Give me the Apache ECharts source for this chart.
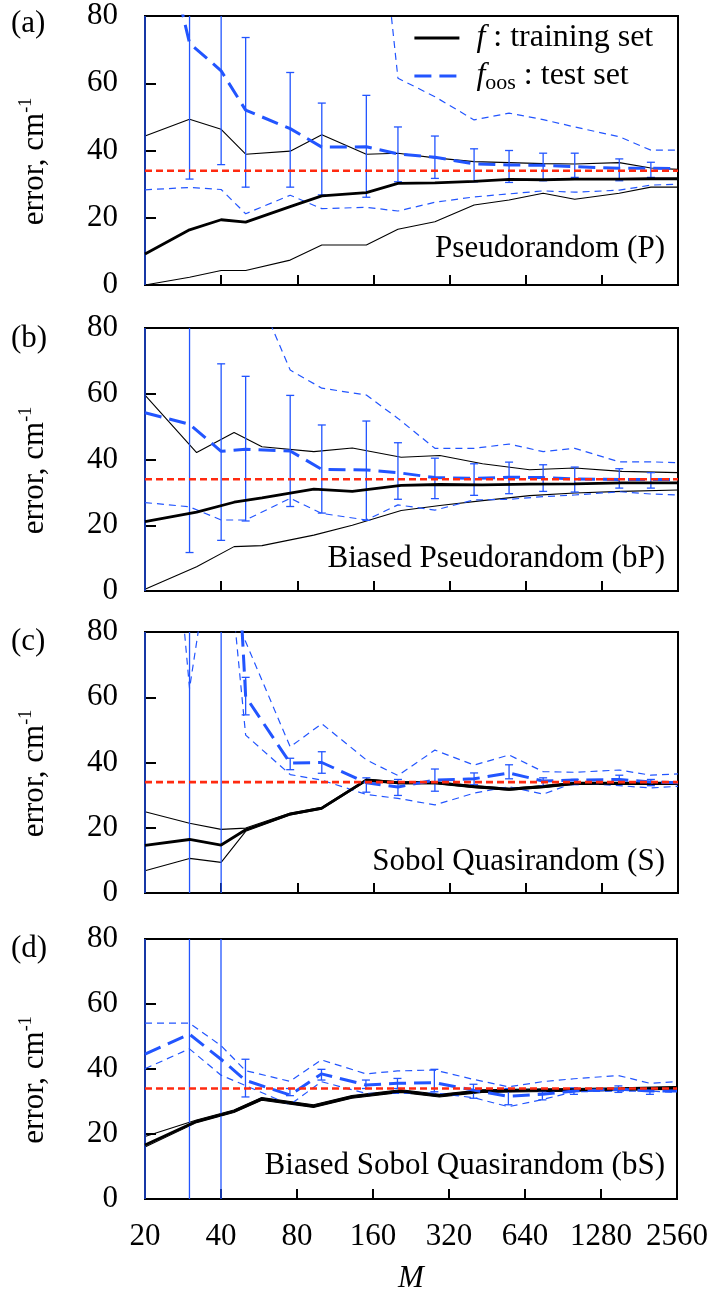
<!DOCTYPE html>
<html>
<head>
<meta charset="utf-8">
<script src="https://cdn.jsdelivr.net/npm/echarts/dist/echarts.min.js"></script>
<style>
html,body{margin:0;padding:0;background:#fff;}
#chart{width:711px;height:1295px;}
</style>
</head>
<body>
<div id="chart"></div>
<script>
// ---------------- data ----------------
const M_TEST = [20,30,40,50,75,100,150,200,280,400,550,750,1000,1500,2000,2560];
const M_TRAIN_BIASED = [20,32,45,58,93,132,206,293,432,663,1000,1535,2560];
const X_TICK_LABELS = ['20','40','80','160','320','640','1280','2560'];
const Y_TICKS = [0,20,40,60,80];
const REF_ERROR = 34;
const PANEL_TAGS = ['(a)','(b)','(c)','(d)'];
const PANEL_NAMES = ['Pseudorandom (P)','Biased Pseudorandom (bP)','Sobol Quasirandom (S)','Biased Sobol Quasirandom (bS)'];

// (a) Pseudorandom
const A_trainMean = [9.2,16.4,19.4,18.7,23.3,26.5,27.5,30.2,30.4,30.8,31.4,31.3,31.5,31.5,31.6,31.6];
const A_trainMax  = [44.3,49.3,46.3,38.9,39.8,44.7,38.9,39.2,37.8,36.7,36.4,36.1,36.0,36.4,34.8,34.4];
const A_trainMin  = [0,2.3,4.3,4.3,7.4,11.9,11.9,16.6,18.8,23.8,25.3,27.3,25.5,27.3,29.1,29.1];
const A_testMean  = [128,71.9,63.7,52.0,46.5,41.0,41.1,39.0,38.0,36.0,35.7,35.6,35.2,34.7,34.7,34.6];
const A_testMax   = [220,210,200,190,180,170,150,61.5,56.0,49.1,51.1,49.2,47.0,44.1,40.1,40.1];
const A_testMin   = [28.3,29.0,28.4,21.2,26.7,22.7,23.1,22.0,24.6,26.2,27.1,28.0,27.6,28.2,29.7,30.0];
const A_errLow    = [-100,31.5,35.8,29.1,29.1,26.8,26.1,30.7,31.7,30.7,30.5,31.0,32.0,31.0,32.0,null];
const A_errHigh   = [300,110.5,91.0,73.6,63.2,54.1,56.4,47.0,44.3,40.5,40.0,39.2,39.2,37.5,36.5,null];

// (b) Biased Pseudorandom (training curves on M_TRAIN_BIASED)
const B_trainMean = [21.1,24.0,27.0,28.3,31.0,30.3,32.1,32.4,32.3,32.5,32.6,32.9,32.9];
const B_trainMax  = [59.6,42.1,48.2,43.9,42.4,43.5,40.7,41.2,38.7,36.9,37.4,36.4,36.0];
const B_trainMin  = [0.5,7.4,13.5,13.8,17.0,20.0,24.5,26.0,27.5,29.0,29.8,30.3,30.7];
const B_testMean  = [54.2,50.7,42.5,43.1,42.6,37.0,36.8,36.0,34.5,34.3,34.6,34.5,34.1,33.9,33.9,33.9];
const B_testMax   = [150,140,120,99,67.2,61.7,59.6,52.5,43.4,43.4,44.7,42.4,43.4,39.3,39.3,39.0];
const B_testMin   = [26.9,25.6,21.6,21.6,28.2,23.6,21.6,26.2,24.6,27.7,27.9,28.7,29.2,30.2,29.5,29.2];
const B_errLow    = [-100,11.7,15.4,21.3,25.7,23.7,21.5,27.9,28.1,29.1,29.6,30.3,30.1,31.3,31.3,null];
const B_errHigh   = [300,90.0,69.1,65.3,59.5,50.5,51.7,45.1,40.4,38.7,39.2,38.4,37.7,37.2,36.0,null];

// (c) Sobol Quasirandom
const C_trainMean = [14.6,16.4,14.7,19.4,24.2,26.0,34.6,33.8,33.8,32.6,31.8,32.6,33.6,33.6,33.6,33.6];
const C_trainMax  = [24.9,21.4,19.5,19.9,24.5,26.3,34.9,34.1,34.1,32.9,32.1,32.9,33.9,33.9,33.9,33.9];
const C_trainMin  = [6.8,10.6,9.4,18.9,23.9,25.7,34.3,33.5,33.5,32.3,31.5,32.3,33.3,33.3,33.3,33.3];
const C_testMean  = [300,250,200,60.2,39.8,40.0,33.8,32.5,34.6,35.0,36.8,34.3,34.6,34.8,34.0,33.8];
const C_testMax   = [260,250,95,77,44.8,51.9,40.8,36.0,43.8,39.2,42.3,37.2,37.0,37.7,36.1,36.5];
const C_testMin   = [215,62.7,126,48.4,36.3,34.6,30.2,29.0,27.0,30.6,32.6,30.3,33.8,32.9,32.2,32.7];
const C_errLow    = [-100,-100,-100,54.6,37.8,36.7,30.9,29.9,31.2,33.2,35.0,32.9,33.2,33.8,32.9,null];
const C_errHigh   = [300,300,300,66.1,41.3,43.3,35.3,34.8,38.0,36.8,39.3,35.3,34.8,36.1,34.8,null];

// (d) Biased Sobol Quasirandom (training curves on M_TRAIN_BIASED)
const D_trainMean = [16.6,23.9,27.0,30.8,28.6,31.4,33.2,31.8,33.2,33.4,33.6,33.8,34.2];
const D_trainMax  = [19.2,24.3,27.4,31.2,29.0,31.8,33.6,32.2,33.6,33.8,34.0,34.2,34.6];
const D_trainMin  = [16.0,23.5,26.6,30.4,28.2,31.0,32.8,31.4,32.8,33.0,33.2,33.4,33.8];
const D_testMean  = [44.6,50.7,43.0,36.5,32.0,38.5,35.1,35.6,35.8,33.5,31.6,32.2,33.2,33.8,33.2,33.2];
const D_testMax   = [54.1,54.1,47.2,39.5,36.2,42.8,38.5,39.4,39.7,36.8,34.5,36.1,37.0,38.0,35.6,36.1];
const D_testMin   = [40.1,46.2,38.1,34.9,29.0,36.1,32.5,32.5,32.6,31.2,28.4,30.6,33.0,33.2,33.2,32.8];
const D_errLow    = [-100,-100,-100,31.4,31.8,36.6,34.0,34.0,33.0,31.0,29.0,30.5,32.2,32.8,32.2,null];
const D_errHigh   = [300,300,300,43.0,34.0,39.9,36.6,37.1,39.9,35.3,34.0,33.0,34.2,34.8,34.2,null];

// ---------------- layout / style ----------------
const FF = '"Liberation Serif", "Times New Roman", serif';
const BLUE = '#2255ff';
const RED = '#ff2a10';
const GRID_LEFT = 145, GRID_RIGHT = 33;
const GRID_TOPS = [16, 328, 632, 939];
const GRID_HEIGHTS = [269, 263, 261, 262];
const LABEL_Y = [249, 559, 862, 1166];
const TAG_Y = [26, 341, 644, 951];

const lx = m => Math.log2(m / M_TEST[0]);
const XMAX = lx(M_TEST[M_TEST.length - 1]);
const pts = (Ms, vals) => Ms.map((m, i) => [lx(m), vals[i]]);

const panels = [
  {trainM: M_TEST, tMean: A_trainMean, tMax: A_trainMax, tMin: A_trainMin, sMean: A_testMean, sMax: A_testMax, sMin: A_testMin, eLo: A_errLow, eHi: A_errHigh},
  {trainM: M_TRAIN_BIASED, tMean: B_trainMean, tMax: B_trainMax, tMin: B_trainMin, sMean: B_testMean, sMax: B_testMax, sMin: B_testMin, eLo: B_errLow, eHi: B_errHigh},
  {trainM: M_TEST, tMean: C_trainMean, tMax: C_trainMax, tMin: C_trainMin, sMean: C_testMean, sMax: C_testMax, sMin: C_testMin, eLo: C_errLow, eHi: C_errHigh},
  {trainM: M_TRAIN_BIASED, tMean: D_trainMean, tMax: D_trainMax, tMin: D_trainMin, sMean: D_testMean, sMax: D_testMax, sMin: D_testMin, eLo: D_errLow, eHi: D_errHigh}
];

const grids = [], xAxes = [], yAxes = [], series = [], graphics = [];

panels.forEach((p, k) => {
  grids.push({left: GRID_LEFT, right: GRID_RIGHT, top: GRID_TOPS[k], height: GRID_HEIGHTS[k],
    show: true, borderColor: '#000', borderWidth: 2, backgroundColor: 'transparent'});
  xAxes.push({
    type: 'value', gridIndex: k, min: 0, max: XMAX, interval: 1,
    axisLine: {lineStyle: {color: '#000', width: 2}},
    axisTick: {inside: true, length: 10, lineStyle: {color: '#000', width: 2}},
    splitLine: {show: false},
    axisLabel: {show: k === 3, margin: 22, fontFamily: FF, fontSize: 31, color: '#000',
      formatter: v => X_TICK_LABELS[Math.round(v)]},
    name: k === 3 ? 'M' : '', nameLocation: 'middle', nameGap: 64,
    nameTextStyle: {fontFamily: FF, fontSize: 31, fontStyle: 'italic', color: '#000'}
  });
  yAxes.push({
    type: 'value', gridIndex: k, min: Y_TICKS[0], max: Y_TICKS[Y_TICKS.length - 1], interval: 20,
    axisLine: {lineStyle: {color: '#000', width: 2}},
    axisTick: {inside: true, length: 11, lineStyle: {color: '#000', width: 2}},
    splitLine: {show: false},
    axisLabel: {margin: 27, fontFamily: FF, fontSize: 31, color: '#000', padding: [7, 0, 0, 0]},
    name: 'error, cm{sup|-1}', nameLocation: 'middle', nameGap: 92,
    nameTextStyle: {fontFamily: FF, fontSize: 31, color: '#000', lineHeight: 36, padding: [0, 22, 0, 0],
      rich: {sup: {fontFamily: FF, fontSize: 18, lineHeight: 36, verticalAlign: 'top', color: '#000'}}}
  });

  const base = {type: 'line', xAxisIndex: k, yAxisIndex: k, symbol: 'none', showSymbol: false,
    silent: true, animation: false, clip: true};

  series.push(Object.assign({}, base, {name: 'trainMax' + k, z: 2, data: pts(p.trainM, p.tMax),
    lineStyle: {color: '#000', width: 1.1}}));
  series.push(Object.assign({}, base, {name: 'trainMin' + k, z: 2, data: pts(p.trainM, p.tMin),
    lineStyle: {color: '#000', width: 1.1}}));
  series.push(Object.assign({}, base, {name: 'testMax' + k, z: 2, data: pts(M_TEST, p.sMax),
    lineStyle: {color: BLUE, width: 1.2, type: [7, 5]}}));
  series.push(Object.assign({}, base, {name: 'testMin' + k, z: 2, data: pts(M_TEST, p.sMin),
    lineStyle: {color: BLUE, width: 1.2, type: [7, 5]}}));

  // error bars
  const errData = [];
  M_TEST.forEach((m, i) => { if (p.eLo[i] != null) errData.push([lx(m), p.eLo[i], p.eHi[i]]); });
  series.push({
    type: 'custom', name: 'err' + k, xAxisIndex: k, yAxisIndex: k, silent: true, animation: false, z: 3,
    data: errData, encode: {x: 0, y: [1, 2]},
    renderItem: function (params, api) {
      const x = api.value(0), lo = api.value(1), hi = api.value(2);
      const pl = api.coord([x, lo]), ph = api.coord([x, hi]);
      const cs = params.coordSys;
      const top = cs.y, bot = cs.y + cs.height;
      const clampY = y => Math.min(Math.max(y, top), bot);
      const st = {stroke: BLUE, lineWidth: 1.3};
      const ch = [{type: 'line', shape: {x1: pl[0], y1: clampY(ph[1]), x2: pl[0], y2: clampY(pl[1])}, style: st}];
      const cw = 4;
      if (ph[1] >= top) ch.push({type: 'line', shape: {x1: ph[0] - cw, y1: ph[1], x2: ph[0] + cw, y2: ph[1]}, style: st});
      if (pl[1] <= bot) ch.push({type: 'line', shape: {x1: pl[0] - cw, y1: pl[1], x2: pl[0] + cw, y2: pl[1]}, style: st});
      return {type: 'group', children: ch};
    }
  });

  series.push(Object.assign({}, base, {name: 'train', z: 4, data: pts(p.trainM, p.tMean),
    lineStyle: {color: '#000', width: 2.8}, itemStyle: {color: '#000'}}));
  series.push(Object.assign({}, base, {name: 'test', z: 5, data: pts(M_TEST, p.sMean),
    lineStyle: {color: BLUE, width: 3, type: [17, 8]}, itemStyle: {color: BLUE}}));
  series.push(Object.assign({}, base, {name: 'ref' + k, z: 6,
    data: [[lx(M_TEST[0]), REF_ERROR], [XMAX, REF_ERROR]],
    lineStyle: {color: RED, width: 2.6, type: [7, 4]}}));

  graphics.push({type: 'text', left: 11, top: TAG_Y[k] - 18, style: {text: PANEL_TAGS[k], fontFamily: FF, fontSize: 31, fill: '#000'}});
  graphics.push({type: 'text', x: 665, y: LABEL_Y[k], style: {text: PANEL_NAMES[k], fontFamily: FF, fontSize: 31, fill: '#000', align: 'right', verticalAlign: 'middle'}});
});

const chart = echarts.init(document.getElementById('chart'), null, {renderer: 'canvas'});
chart.setOption({
  animation: false,
  backgroundColor: '#fff',
  grid: grids, xAxis: xAxes, yAxis: yAxes, series: series, graphic: graphics,
  legend: {
    data: ['train', 'test'], orient: 'vertical', left: 413, top: 20, padding: 0,
    itemWidth: 45, itemHeight: 14, itemGap: 2, selectedMode: false,
    itemStyle: {opacity: 0, borderWidth: 0},
    lineStyle: {width: 2.8},
    formatter: name => name === 'train' ? '{i|f}{t| : training set}' : '{i|f}{s|oos}{t| : test set}',
    textStyle: {fontFamily: FF, fontSize: 32, color: '#000', lineHeight: 36,
      rich: {
        i: {fontFamily: FF, fontSize: 32, fontStyle: 'italic', lineHeight: 36, padding: [0, 0, 0, 12], color: '#000'},
        t: {fontFamily: FF, fontSize: 32, lineHeight: 36, color: '#000'},
        s: {fontFamily: FF, fontSize: 22, lineHeight: 22, verticalAlign: 'bottom', color: '#000'}
      }}
  }
});
</script>
</body>
</html>
